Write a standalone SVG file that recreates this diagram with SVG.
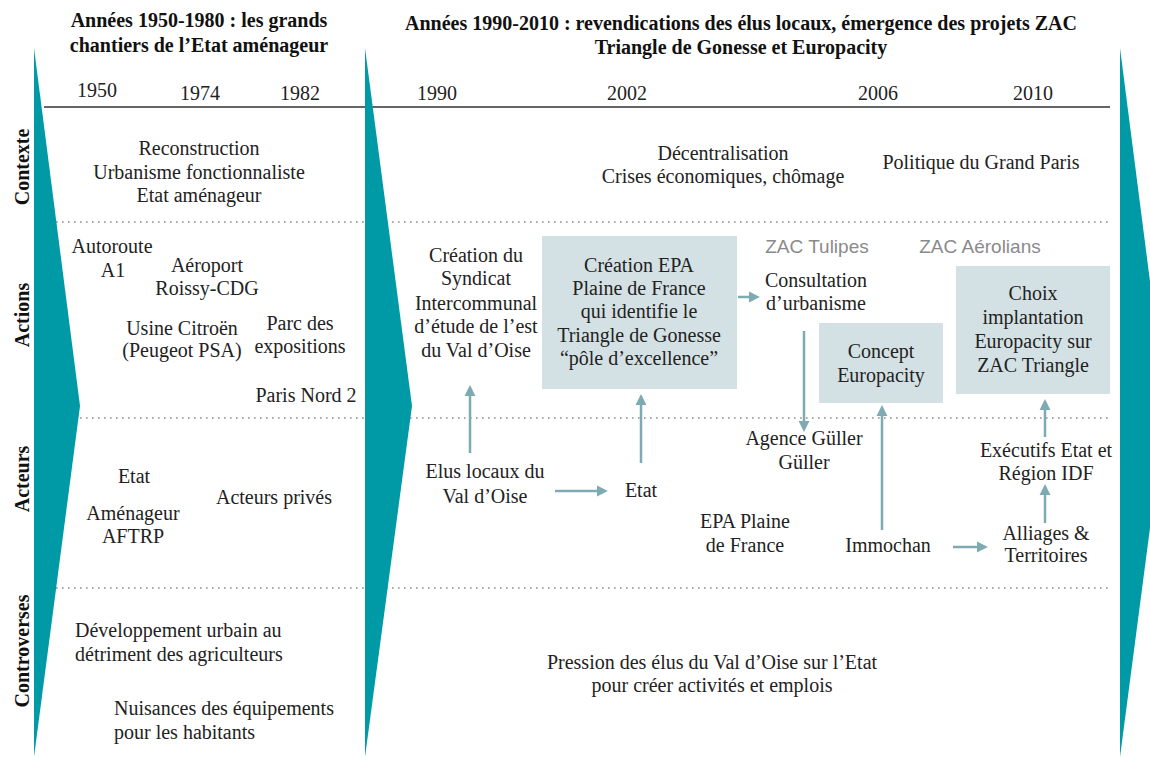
<svg xmlns="http://www.w3.org/2000/svg" width="1150" height="757" viewBox="0 0 1150 757">
<defs>
<style>
text{font-family:"Liberation Serif","Times New Roman",serif;font-size:20px;fill:#222;}
.c{text-anchor:middle;}
.t{font-weight:bold;font-size:20px;fill:#111;text-anchor:middle;}
.rl{font-weight:bold;font-size:20px;fill:#111;text-anchor:middle;}
.g{font-family:"Liberation Sans",Arial,sans-serif;font-size:19px;fill:#8a8a8a;text-anchor:middle;}
.teal{fill:#009aa6;}
.box{fill:#d4e1e4;}
.dot{stroke:#8f8f8f;stroke-width:1.6;stroke-dasharray:1.6 4.4;fill:none;}
.arr{stroke:#7eaab2;stroke-width:2.5;fill:none;marker-end:url(#ah);}
</style>
<marker id="ah" viewBox="0 0 10 10" refX="1" refY="5" markerWidth="11" markerHeight="13" markerUnits="userSpaceOnUse" orient="auto">
<path d="M0,0 L10,5 L0,10 z" fill="#7eaab2"/>
</marker>
</defs>
<rect width="1150" height="757" fill="#fff"/>

<g id="grid">
<line x1="44" y1="107" x2="1110" y2="107" stroke="#666" stroke-width="2"/>
<line class="dot" x1="44" y1="222" x2="1110" y2="222"/>
<line class="dot" x1="44" y1="418" x2="1110" y2="418"/>
<line class="dot" x1="44" y1="588" x2="1110" y2="588"/>
</g>

<g id="chevrons">
<polygon class="teal" points="34,48 80,406 34,757"/>
<polygon class="teal" points="365,48 412,406 365,757"/>
<polygon class="teal" points="1120,48 1166,406 1120,757"/>
</g>

<g id="titles">
<text class="t" x="199" y="27">Années 1950-1980 : les grands</text>
<text class="t" x="199" y="52">chantiers de l’Etat aménageur</text>
<text class="t" x="741" y="30">Années 1990-2010 : revendications des élus locaux, émergence des projets ZAC</text>
<text class="t" x="741" y="54">Triangle de Gonesse et Europacity</text>
</g>

<g id="years">
<text class="c" x="97" y="97">1950</text>
<text class="c" x="200" y="100">1974</text>
<text class="c" x="300" y="100">1982</text>
<text class="c" x="437" y="100">1990</text>
<text class="c" x="627" y="100">2002</text>
<text class="c" x="878" y="100">2006</text>
<text class="c" x="1033" y="100">2010</text>
</g>

<g id="row-labels">
<text class="rl" transform="translate(29,167) rotate(-90)">Contexte</text>
<text class="rl" transform="translate(29,315) rotate(-90)">Actions</text>
<text class="rl" transform="translate(29,479) rotate(-90)">Acteurs</text>
<text class="rl" transform="translate(29,651) rotate(-90)">Controverses</text>
</g>

<g id="contexte-1950">
<text class="c" x="199" y="155">Reconstruction</text>
<text class="c" x="199" y="179">Urbanisme fonctionnaliste</text>
<text class="c" x="199" y="202">Etat aménageur</text>
</g>
<g id="contexte-1990">
<text class="c" x="723" y="160">Décentralisation</text>
<text class="c" x="723" y="183">Crises économiques, chômage</text>
</g>
<g id="contexte-grand-paris">
<text class="c" x="981" y="169">Politique du Grand Paris</text>
</g>

<g id="autoroute"><text class="c" x="112" y="253">Autoroute</text><text class="c" x="113" y="277">A1</text></g>
<g id="aeroport"><text class="c" x="207" y="272">Aéroport</text><text class="c" x="207" y="295">Roissy-CDG</text></g>
<g id="usine"><text class="c" x="182" y="335">Usine Citroën</text><text class="c" x="182" y="357">(Peugeot PSA)</text></g>
<g id="parc"><text class="c" x="300" y="330">Parc des</text><text class="c" x="300" y="353">expositions</text></g>
<g id="paris-nord"><text class="c" x="306" y="402">Paris Nord 2</text></g>

<g id="syndicat">
<text class="c" x="476" y="262">Création du</text>
<text class="c" x="476" y="285">Syndicat</text>
<text class="c" x="476" y="310">Intercommunal</text>
<text class="c" x="476" y="333">d’étude de l’est</text>
<text class="c" x="476" y="357">du Val d’Oise</text>
</g>
<g id="epa-creation">
<rect class="box" x="542" y="236" width="195" height="153"/>
<text class="c" x="639" y="272">Création EPA</text>
<text class="c" x="639" y="295">Plaine de France</text>
<text class="c" x="639" y="318">qui identifie le</text>
<text class="c" x="639" y="342">Triangle de Gonesse</text>
<text class="c" x="639" y="365">“pôle d’excellence”</text>
</g>
<g id="zac-tulipes"><text class="g" x="817" y="253">ZAC Tulipes</text></g>
<g id="zac-aerolians"><text class="g" x="980" y="253">ZAC Aérolians</text></g>
<g id="consultation"><text class="c" x="816" y="287">Consultation</text><text class="c" x="816" y="310">d’urbanisme</text></g>
<g id="concept">
<rect class="box" x="819" y="323" width="124" height="80"/>
<text class="c" x="881" y="358">Concept</text>
<text class="c" x="881" y="382">Europacity</text>
</g>
<g id="choix">
<rect class="box" x="956" y="266" width="154" height="128"/>
<text class="c" x="1033" y="300">Choix</text>
<text class="c" x="1033" y="324">implantation</text>
<text class="c" x="1033" y="348">Europacity sur</text>
<text class="c" x="1033" y="372">ZAC Triangle</text>
</g>

<g id="etat-1950"><text class="c" x="134" y="483">Etat</text></g>
<g id="amenageur"><text class="c" x="133" y="520">Aménageur</text><text class="c" x="133" y="543">AFTRP</text></g>
<g id="acteurs-prives"><text class="c" x="274" y="504">Acteurs privés</text></g>

<g id="elus"><text class="c" x="485" y="478">Elus locaux du</text><text class="c" x="485" y="503">Val d’Oise</text></g>
<g id="etat"><text class="c" x="641" y="497">Etat</text></g>
<g id="guller"><text class="c" x="804" y="445">Agence Güller</text><text class="c" x="804" y="469">Güller</text></g>
<g id="epa-plaine"><text class="c" x="745" y="528">EPA Plaine</text><text class="c" x="745" y="552">de France</text></g>
<g id="immochan"><text class="c" x="888" y="552">Immochan</text></g>
<g id="executifs"><text class="c" x="1046" y="457">Exécutifs Etat et</text><text class="c" x="1046" y="480">Région IDF</text></g>
<g id="alliages"><text class="c" x="1046" y="540">Alliages &amp;</text><text class="c" x="1046" y="562">Territoires</text></g>

<g id="controverses-1950">
<text x="75" y="637">Développement urbain au</text>
<text x="75" y="661">détriment des agriculteurs</text>
<text x="114" y="715">Nuisances des équipements</text>
<text x="114" y="739">pour les habitants</text>
</g>
<g id="controverses-1990">
<text class="c" x="712" y="669">Pression des élus du Val d’Oise sur l’Etat</text>
<text class="c" x="712" y="692">pour créer activités et emplois</text>
</g>

<g id="connectors">
<line class="arr" x1="470" y1="453" x2="470" y2="395"/>
<line class="arr" x1="641" y1="463" x2="641" y2="404"/>
<line class="arr" x1="738" y1="297" x2="750" y2="297"/>
<line class="arr" x1="804" y1="331" x2="804" y2="422"/>
<line class="arr" x1="882" y1="530" x2="882" y2="415"/>
<line class="arr" x1="1045" y1="437" x2="1045" y2="409"/>
<line class="arr" x1="1045" y1="523" x2="1045" y2="494"/>
<line class="arr" x1="555" y1="491" x2="598" y2="491"/>
<line class="arr" x1="953" y1="547" x2="978" y2="547"/>
</g>
</svg>
